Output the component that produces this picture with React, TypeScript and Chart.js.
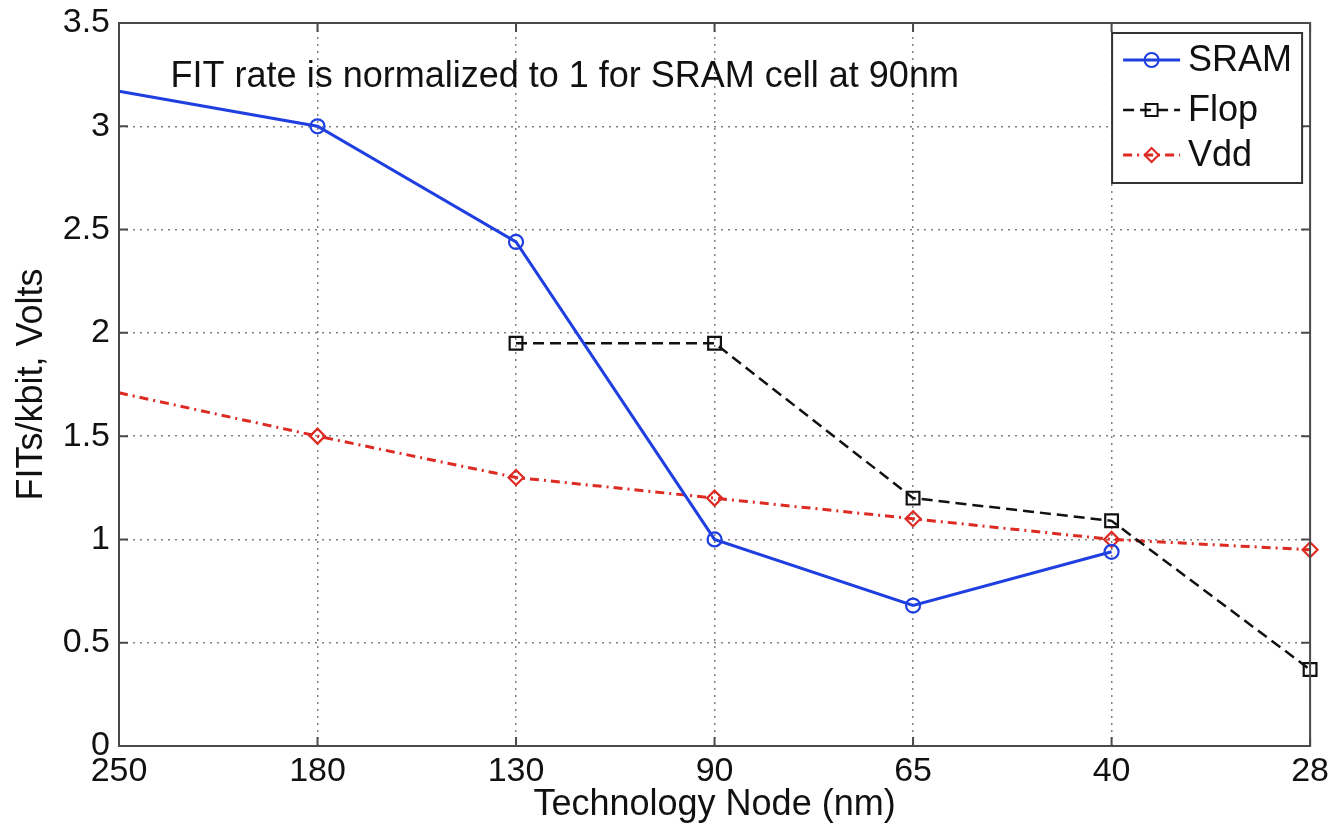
import React, { useEffect, useRef } from "react";
import { Chart, registerables } from "chart.js";

Chart.register(...registerables);

const nodeLabels = ["250", "180", "130", "90", "65", "40", "28"];
const sramValues = [3.17, 3.0, 2.44, 1.0, 0.68, 0.94, null];
const flopValues = [null, null, 1.95, 1.95, 1.2, 1.09, 0.37];
const vddValues = [1.71, 1.5, 1.3, 1.2, 1.1, 1.0, 0.95];
const sramMarkers = [0, 7, 7, 7, 7, 7, 7];
const vddMarkers = [0, 7.5, 7.5, 7.5, 7.5, 7.5, 7.5];
const yMin = 0;
const yMax = 3.5;
const yStep = 0.5;
const noteText = "FIT rate is normalized to 1 for SRAM cell at 90nm";
const xTitle = "Technology Node (nm)";
const yTitle = "FITs/kbit, Volts";

const FONT = "'Liberation Sans', Arial, Helvetica, sans-serif";

const framePlugin = {
  id: "frameTicks",
  afterDatasetsDraw(chart: any) {
    const { ctx, chartArea, scales } = chart;
    const { left, right, top, bottom } = chartArea;
    ctx.save();
    ctx.setLineDash([]);
    ctx.strokeStyle = "#4a4a4a";
    ctx.lineWidth = 2;
    ctx.strokeRect(left, top, right - left, bottom - top);
    const tl = 9;
    ctx.beginPath();
    scales.y.ticks.forEach((t: any) => {
      const y = scales.y.getPixelForValue(t.value);
      ctx.moveTo(left, y);
      ctx.lineTo(left + tl, y);
      ctx.moveTo(right, y);
      ctx.lineTo(right - tl, y);
    });
    scales.x.ticks.forEach((_t: any, i: number) => {
      const x = scales.x.getPixelForValue(i);
      ctx.moveTo(x, bottom);
      ctx.lineTo(x, bottom - tl);
      ctx.moveTo(x, top);
      ctx.lineTo(x, top + tl);
    });
    ctx.stroke();
    ctx.restore();
  },
  afterDraw(chart: any) {
    const { ctx, chartArea, scales } = chart;
    ctx.save();
    // annotation text
    ctx.font = `36px ${FONT}`;
    ctx.fillStyle = "#111";
    ctx.textAlign = "left";
    ctx.textBaseline = "middle";
    ctx.fillText(noteText, scales.x.getPixelForValue(0.26), scales.y.getPixelForValue(3.24));

    // legend
    const bw = 190;
    const bh = 150;
    const bx = chartArea.right - 8 - bw;
    const by = chartArea.top + 10;
    ctx.fillStyle = "#fff";
    ctx.fillRect(bx, by, bw, bh);
    ctx.strokeStyle = "#333";
    ctx.lineWidth = 2;
    ctx.setLineDash([]);
    ctx.strokeRect(bx, by, bw, bh);
    const rows = [by + 27, by + 77, by + 122];
    chart.data.datasets.forEach((ds: any, i: number) => {
      const y = rows[i];
      const x0 = bx + 11;
      const x1 = bx + 68;
      ctx.save();
      ctx.strokeStyle = ds.borderColor;
      ctx.lineWidth = ds.borderWidth;
      ctx.setLineDash(ds.borderDash || []);
      ctx.beginPath();
      ctx.moveTo(x0, y);
      ctx.lineTo(x1, y);
      ctx.stroke();
      ctx.setLineDash([]);
      ctx.lineWidth = 2;
      const cx = (x0 + x1) / 2;
      const r = 7;
      ctx.beginPath();
      if (ds.pointStyle === "circle") {
        ctx.arc(cx, y, r, 0, Math.PI * 2);
      } else if (ds.pointStyle === "rect") {
        ctx.rect(cx - 6, y - 6, 12, 12);
      } else {
        ctx.moveTo(cx, y - r);
        ctx.lineTo(cx + r, y);
        ctx.lineTo(cx, y + r);
        ctx.lineTo(cx - r, y);
        ctx.closePath();
      }
      ctx.stroke();
      ctx.restore();
      ctx.fillStyle = "#111";
      ctx.font = `36px ${FONT}`;
      ctx.textAlign = "left";
      ctx.textBaseline = "middle";
      ctx.fillText(ds.label, x1 + 8, y + 1);
    });
    ctx.restore();
  },
};

export default function App() {
  const canvasRef = useRef<HTMLCanvasElement | null>(null);

  useEffect(() => {
    const canvas = canvasRef.current;
    if (!canvas) return;
    const chart = new Chart(canvas, {
      type: "line",
      data: {
        labels: nodeLabels,
        datasets: [
          {
            label: "SRAM",
            data: sramValues,
            borderColor: "#1f3fe0",
            borderWidth: 3,
            pointStyle: "circle",
            pointRadius: sramMarkers,
            pointBorderWidth: 2.2,
            pointBorderColor: "#1f3fe0",
            pointBackgroundColor: "rgba(255,255,255,0)",
            tension: 0,
            clip: false,
          },
          {
            label: "Flop",
            data: flopValues,
            borderColor: "#111111",
            borderWidth: 2.5,
            borderDash: [11, 6],
            pointStyle: "rect",
            pointRadius: 9,
            pointBorderWidth: 2.2,
            pointBorderColor: "#111111",
            pointBackgroundColor: "rgba(255,255,255,0)",
            tension: 0,
            clip: false,
          },
          {
            label: "Vdd",
            data: vddValues,
            borderColor: "#dd2a22",
            borderWidth: 3,
            borderDash: [9, 5, 2, 5],
            pointStyle: "rectRot",
            pointRadius: vddMarkers,
            pointBorderWidth: 2.2,
            pointBorderColor: "#dd2a22",
            pointBackgroundColor: "rgba(255,255,255,0)",
            tension: 0,
            clip: false,
          },
        ],
      },
      options: {
        responsive: false,
        animation: false,
        events: [],
        layout: { padding: { left: 0, right: 22, top: 23, bottom: 0 } },
        plugins: {
          legend: { display: false },
          tooltip: { enabled: false },
          title: { display: false },
        },
        scales: {
          x: {
            type: "category",
            offset: false,
            grid: {
              color: "#808080",
              lineWidth: 1.5,
              drawTicks: false,
            },
            border: { display: false, dash: [2, 5] },
            ticks: {
              color: "#111",
              font: { family: FONT, size: 34 },
              padding: 5,
              maxRotation: 0,
              autoSkip: false,
            },
            title: {
              display: true,
              text: xTitle,
              color: "#111",
              font: { family: FONT, size: 36 },
              padding: { top: 0, bottom: 7 },
            },
            afterFit(scale: any) {
              scale.height = 88;
            },
          },
          y: {
            min: yMin,
            max: yMax,
            grid: {
              color: "#808080",
              lineWidth: 1.5,
              drawTicks: false,
            },
            border: { display: false, dash: [2, 5] },
            ticks: {
              stepSize: yStep,
              color: "#111",
              font: { family: FONT, size: 34, lineHeight: 0.8 },
              padding: 9,
              callback: (v: any) => String(Number(v)),
            },
            title: {
              display: true,
              text: yTitle,
              color: "#111",
              font: { family: FONT, size: 36 },
              padding: { top: 10, bottom: 0 },
            },
            afterFit(scale: any) {
              scale.width = 119;
            },
          },
        },
      },
      plugins: [framePlugin],
    });
    return () => chart.destroy();
  }, []);

  return (
    <div style={{ position: "absolute", left: 0, top: 0, width: 1334, height: 834, background: "#fff" }}>
      <canvas ref={canvasRef} width={1334} height={834} style={{ display: "block" }} />
    </div>
  );
}
